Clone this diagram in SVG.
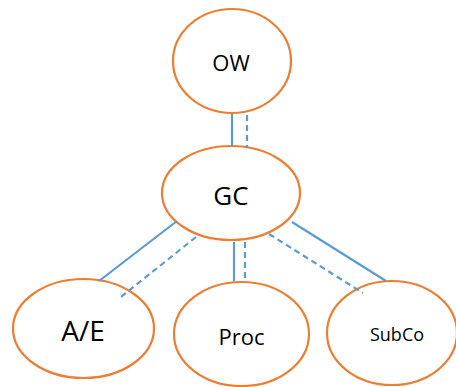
<svg xmlns="http://www.w3.org/2000/svg" width="456" height="387" viewBox="0 0 456 387">
<style>
.n{fill:#fff;stroke:#ED7D31;stroke-width:2.2}
.t{font-family:"Open Sans","Noto Sans",sans-serif;fill:#000;text-anchor:middle}
.s{stroke:#5B9BD5;stroke-width:2.2;fill:none}
.d{stroke:#5B9BD5;stroke-width:2.2;fill:none;stroke-dasharray:6 4}
</style>
<rect width="456" height="387" fill="#fff"/>
<g id="OW">
<ellipse class="n" cx="232" cy="61" rx="59" ry="52"/>
<text class="t" x="231" y="71" font-size="22">OW</text>
</g>
<g id="GC">
<ellipse class="n" cx="231" cy="193" rx="69" ry="47"/>
<text class="t" x="231" y="205" font-size="26">GC</text>
</g>
<g id="AE">
<ellipse class="n" cx="83.5" cy="328.5" rx="70.5" ry="49.5"/>
<text class="t" x="83" y="341" font-size="28">A/E</text>
</g>
<g id="Proc">
<ellipse class="n" cx="241.5" cy="334" rx="67.5" ry="52"/>
<text class="t" x="241.5" y="345" font-size="22">Proc</text>
</g>
<g id="SubCo">
<ellipse class="n" cx="392" cy="333" rx="65" ry="52"/>
<text class="t" x="397" y="341" font-size="18">SubCo</text>
</g>
<g id="connectors">
<line class="s" x1="232" y1="114" x2="232" y2="146"/>
<line class="d" x1="247" y1="115" x2="247" y2="148"/>
<line class="s" x1="177" y1="221" x2="99" y2="281"/>
<line class="d" x1="196" y1="237" x2="121" y2="297"/>
<line class="s" x1="234" y1="242" x2="234" y2="281"/>
<line class="d" x1="245" y1="242" x2="245" y2="282"/>
<line class="s" x1="292" y1="222" x2="386" y2="281"/>
<line class="d" x1="269" y1="234" x2="363" y2="293"/>
</g>
</svg>
